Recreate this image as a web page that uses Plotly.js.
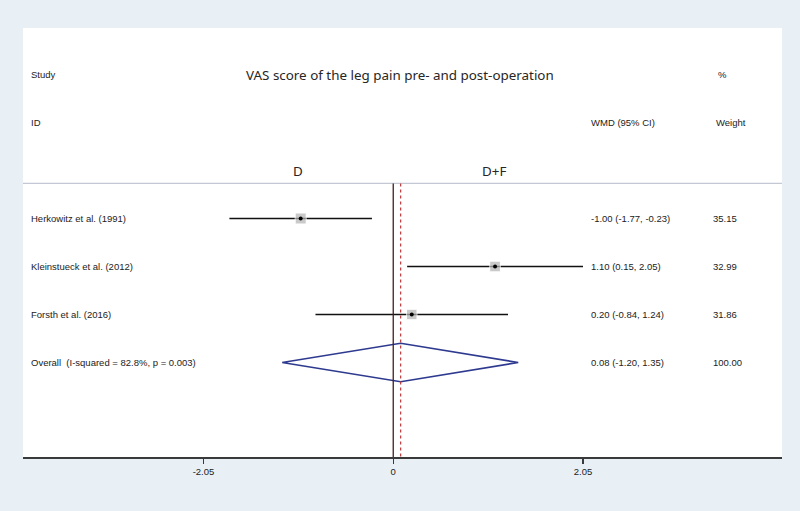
<!DOCTYPE html>
<html>
<head>
<meta charset="utf-8">
<script src="https://cdn.plot.ly/plotly-3.0.1.min.js"></script>
<style>
html,body{margin:0;padding:0;background:#e8f0f6;}
#chart{width:800px;height:511px;}
</style>
</head>
<body>
<div id="chart"></div>
<script>
// ---- data ----
const studies = ["Herkowitz et al. (1991)", "Kleinstueck et al. (2012)", "Forsth et al. (2016)"];
const rows = [1, 2, 3];
const wmd = [-1.00, 1.10, 0.20];
const ciLow = [-1.77, 0.15, -0.84];
const ciHigh = [-0.23, 2.05, 1.24];
const weights = [35.15, 32.99, 31.86];
const overallLabel = "Overall  (I-squared = 82.8%, p = 0.003)";
const overallRow = 4;
const overallEst = 0.08;
const overallLow = -1.20;
const overallHigh = 1.35;
const overallWeight = 100.00;
const tickVals = [-2.05, 0, 2.05];
const tickText = ["-2.05", "0", "2.05"];

const fmt = v => v.toFixed(2);
const ciText = (e, l, h) => `${fmt(e)} (${fmt(l)}, ${fmt(h)})`;

// ---- traces ----
const ciTrace = {
  type: 'scatter', mode: 'markers', x: wmd, y: rows,
  marker: {symbol: 'square', color: '#b3b3b3',
           size: weights.map(w => 11 * Math.sqrt(w / weights[0]))},
  error_x: {type: 'data', symmetric: false,
            array: ciHigh.map((h, i) => h - wmd[i]),
            arrayminus: ciLow.map((l, i) => wmd[i] - l),
            color: '#111', thickness: 1.6, width: 0},
  hoverinfo: 'skip', showlegend: false
};
const dotTrace = {
  type: 'scatter', mode: 'markers', x: wmd, y: rows,
  marker: {symbol: 'circle', color: '#000', size: 4},
  hoverinfo: 'skip', showlegend: false
};
const dh = 0.4;
const diamond = {
  type: 'scatter', mode: 'lines',
  x: [overallLow, overallEst, overallHigh, overallEst, overallLow],
  y: [overallRow, overallRow - dh, overallRow, overallRow + dh, overallRow],
  line: {color: '#2e3a8f', width: 1.6},
  hoverinfo: 'skip', showlegend: false
};

// ---- annotations ----
const txtFont = {family: 'Liberation Sans, Arial, sans-serif', size: 9.5, color: '#222'};
const bigFont = {family: 'Noto Sans, sans-serif', size: 13.4, color: '#262626'};
const xLabel = -3.935, xCI = 2.11, xW = 3.43;
const ann = [];
function a(x, y, text, font, anchor) {
  ann.push({x: x, y: y, xref: 'x', yref: 'y', text: text, showarrow: false,
            xanchor: anchor || 'left', yanchor: 'middle', font: font});
}
a(xLabel, -2, 'Study', txtFont);
a(xLabel, -1, 'ID', txtFont);
a(0.07, -2, 'VAS score of the leg pain pre- and post-operation', bigFont, 'center');
a(3.485, -2, '%', txtFont);
a(xCI, -1, 'WMD (95% CI)', txtFont);
a(3.465, -1, 'Weight', txtFont);
a(-1.03, 0, 'D', bigFont, 'center');
a(1.09, 0, 'D+F', bigFont, 'center');
studies.forEach((s, i) => {
  a(xLabel, rows[i], s, txtFont);
  a(xCI, rows[i], ciText(wmd[i], ciLow[i], ciHigh[i]), txtFont);
  a(xW, rows[i], fmt(weights[i]), txtFont);
});
a(xLabel, overallRow, overallLabel, txtFont);
a(xCI, overallRow, ciText(overallEst, overallLow, overallHigh), txtFont);
a(xW, overallRow, fmt(overallWeight), txtFont);

const yTop = -2.969, yBot = 5.969, ySep = 0.27;
const shapes = [
  {type: 'line', xref: 'paper', yref: 'y', x0: 0, x1: 1, y0: ySep, y1: ySep,
   line: {color: '#c4c8d4', width: 1.2}},
  {type: 'line', xref: 'x', yref: 'y', x0: 0, x1: 0, y0: ySep, y1: yBot,
   line: {color: '#4a1c1c', width: 1.3}},
  {type: 'line', xref: 'x', yref: 'y', x0: overallEst, x1: overallEst, y0: ySep, y1: yBot,
   line: {color: '#c0393b', width: 1.2, dash: '3px,3px'}}
];

const layout = {
  width: 800, height: 511,
  margin: {l: 23, r: 18, t: 28, b: 54},
  paper_bgcolor: '#e8f0f6', plot_bgcolor: '#ffffff',
  xaxis: {range: [-4.0, 4.2], tickvals: tickVals, ticktext: tickText,
          showgrid: false, zeroline: false, showline: true, linecolor: '#3a3a3a', linewidth: 1.5,
          ticks: 'outside', ticklen: 5, tickwidth: 1.2, tickcolor: '#3a3a3a',
          tickfont: {family: 'Liberation Sans, Arial, sans-serif', size: 9.5, color: '#222'},
          fixedrange: true},
  yaxis: {range: [yBot, yTop], showgrid: false, zeroline: false, showline: false,
          showticklabels: false, ticks: '', fixedrange: true},
  annotations: ann, shapes: shapes, showlegend: false
};

Plotly.newPlot('chart', [ciTrace, diamond, dotTrace], layout, {staticPlot: true, displayModeBar: false});
</script>
</body>
</html>
